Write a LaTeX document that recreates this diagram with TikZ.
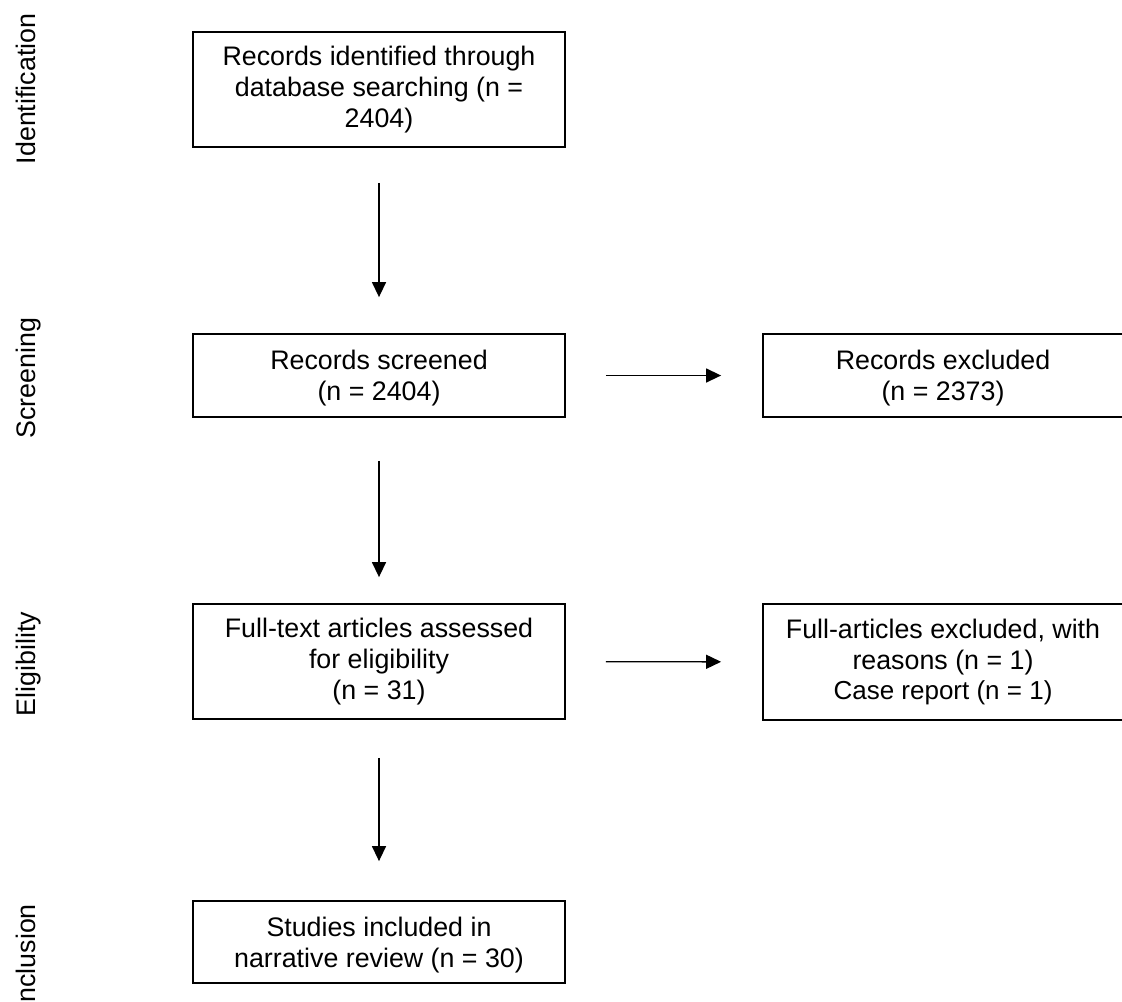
\documentclass[tikz,border=0pt]{standalone}
\usepackage{fontspec}
\setmainfont{Liberation Sans}
\usetikzlibrary{arrows.meta}

\begin{document}
\begin{tikzpicture}[x=0.5pt,y=-0.5pt,
  every node/.style={font=\fontsize{13.4}{15.4}\selectfont},
  box/.style={draw,line width=0.9pt,align=center,inner sep=0pt,minimum width=186pt},
  lowtext/.style={text depth=0pt},
  phase/.style={rotate=90,anchor=base},
  flow/.style={line width=0.7pt,-{Triangle[length=7.5pt,width=7pt]}}]
  \useasboundingbox (0,0) rectangle (1122,1001);
  % phase labels
  \node[phase] (lid) at (35,89) {Identification};
  \node[phase] (lsc) at (35,378) {Screening};
  \node[phase] (lel) at (35,664) {Eligibility};
  \node[phase] (lin) at (35,957) {Inclusion};
  % main column
  \node[box,minimum height=57.5pt] (ident) at (379,89.5) {Records identified through\\database searching (n =\\2404)};
  \node[box,lowtext,minimum height=41.5pt] (screen) at (379,375.5) {Records screened\\(n = 2404)};
  \node[box,minimum height=57.5pt] (elig) at (379,661.5) {Full-text articles assessed\\for eligibility\\(n = 31)};
  \node[box,lowtext,minimum height=41pt] (incl) at (379,942) {Studies included in\\narrative review (n = 30)};
  % exclusions
  \node[box,lowtext,minimum width=180pt,minimum height=41.5pt] (excA) at (943,375.5) {Records excluded\\(n = 2373)};
  \node[box,minimum width=180pt,minimum height=58pt] (excB) at (943,662) {Full-articles excluded, with\\reasons (n = 1)\\{\fontsize{13}{15.4}\selectfont Case report (n = 1)}};
  % arrows
  \draw[flow,shorten <=17.5pt,shorten >=18pt] (ident) -- (screen);
  \draw[flow,shorten <=21.5pt,shorten >=13pt] (screen) -- (elig);
  \draw[flow,shorten <=19pt,shorten >=19.5pt] (elig) -- (incl);
  \draw[flow,shorten <=20pt,shorten >=20.5pt] (screen) -- (excA);
  \draw[flow,shorten <=20pt,shorten >=20.5pt] (elig) -- (excB);
\end{tikzpicture}
\end{document}
